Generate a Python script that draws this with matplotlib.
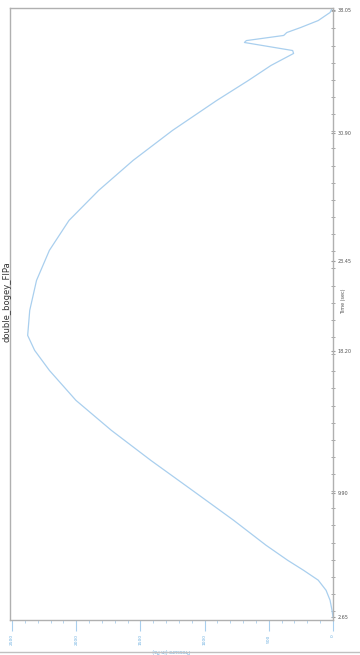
import matplotlib
matplotlib.use("Agg")
import matplotlib.pyplot as plt
from matplotlib.ticker import MultipleLocator

# pressure trace (chart is drawn rotated: time runs upward, pressure leftward)
time_s = [2.65, 3.06, 3.64, 4.22, 4.81, 5.39, 5.97, 6.85, 8.31, 10.06, 11.80,
          13.55, 15.30, 17.05, 18.22, 19.09, 20.55, 22.30, 24.05, 25.80, 27.55,
          29.30, 31.05, 32.80, 33.96, 34.84, 35.54, 35.71, 36.18, 36.29, 36.59,
          36.76, 37.05, 37.46, 37.93, 38.16]
pressure = [0, 8, 23, 54, 115, 230, 353, 522, 775, 1097, 1419,
            1726, 2002, 2209, 2324, 2378, 2362, 2309, 2209, 2056, 1825,
            1557, 1250, 905, 660, 483, 307, 314, 690, 675, 384,
            360, 253, 115, 23, 8]

time_ticks = [2.65, 9.90, 18.20, 23.45, 30.90, 38.05]
time_labels = ["2.65", "9.90", "18.20", "23.45", "30.90", "38.05"]
p_ticks = [0, 500, 1000, 1500, 2000, 2500]
p_labels = ["0", "500", "1000", "1500", "2000", "2500"]

title = "double_bogey_FIPa"

fig = plt.figure(figsize=(3.6, 6.55), dpi=100)
ax = fig.add_axes([0.028, 0.053, 0.897, 0.935])

ax.plot(pressure, time_s, color="#a9cfee", lw=0.9)
ax.set_xlim(2515, 0)
ax.set_ylim(2.47, 38.2)

for s in ax.spines.values():
    s.set_color("#b0b0b0")
    s.set_linewidth(1.0)

ax.yaxis.tick_right()
ax.set_yticks(time_ticks)
ax.set_yticklabels(time_labels, fontsize=3.5, color="#555555")
ax.yaxis.set_minor_locator(MultipleLocator(1.0))
ax.tick_params(axis="y", which="both", direction="inout", length=3, color="#999999", pad=2)
fig.text(0.953, 0.54, "Time (sec)", rotation=90, fontsize=3.5, color="#555555",
         ha="center", va="center")

ax.set_xticks(p_ticks)
ax.set_xticklabels(p_labels, fontsize=3.2, color="#6aaee0", rotation=90)
ax.xaxis.set_minor_locator(MultipleLocator(100))
ax.tick_params(axis="x", which="major", length=8, color="#a9cfee", pad=2)
ax.tick_params(axis="x", which="minor", length=2, color="#a9cfee")
ax.set_xlabel("Pressure (in Pa)", fontsize=3.5, color="#6aaee0", rotation=180, labelpad=2)

fig.text(0.02, 0.54, title, rotation=90, fontsize=6, color="#333333",
         ha="center", va="center")
fig.add_artist(plt.Line2D([0.0, 1.0], [0.005, 0.005], color="#c0c0c0", lw=1))

fig.savefig("out.png", dpi=100)
